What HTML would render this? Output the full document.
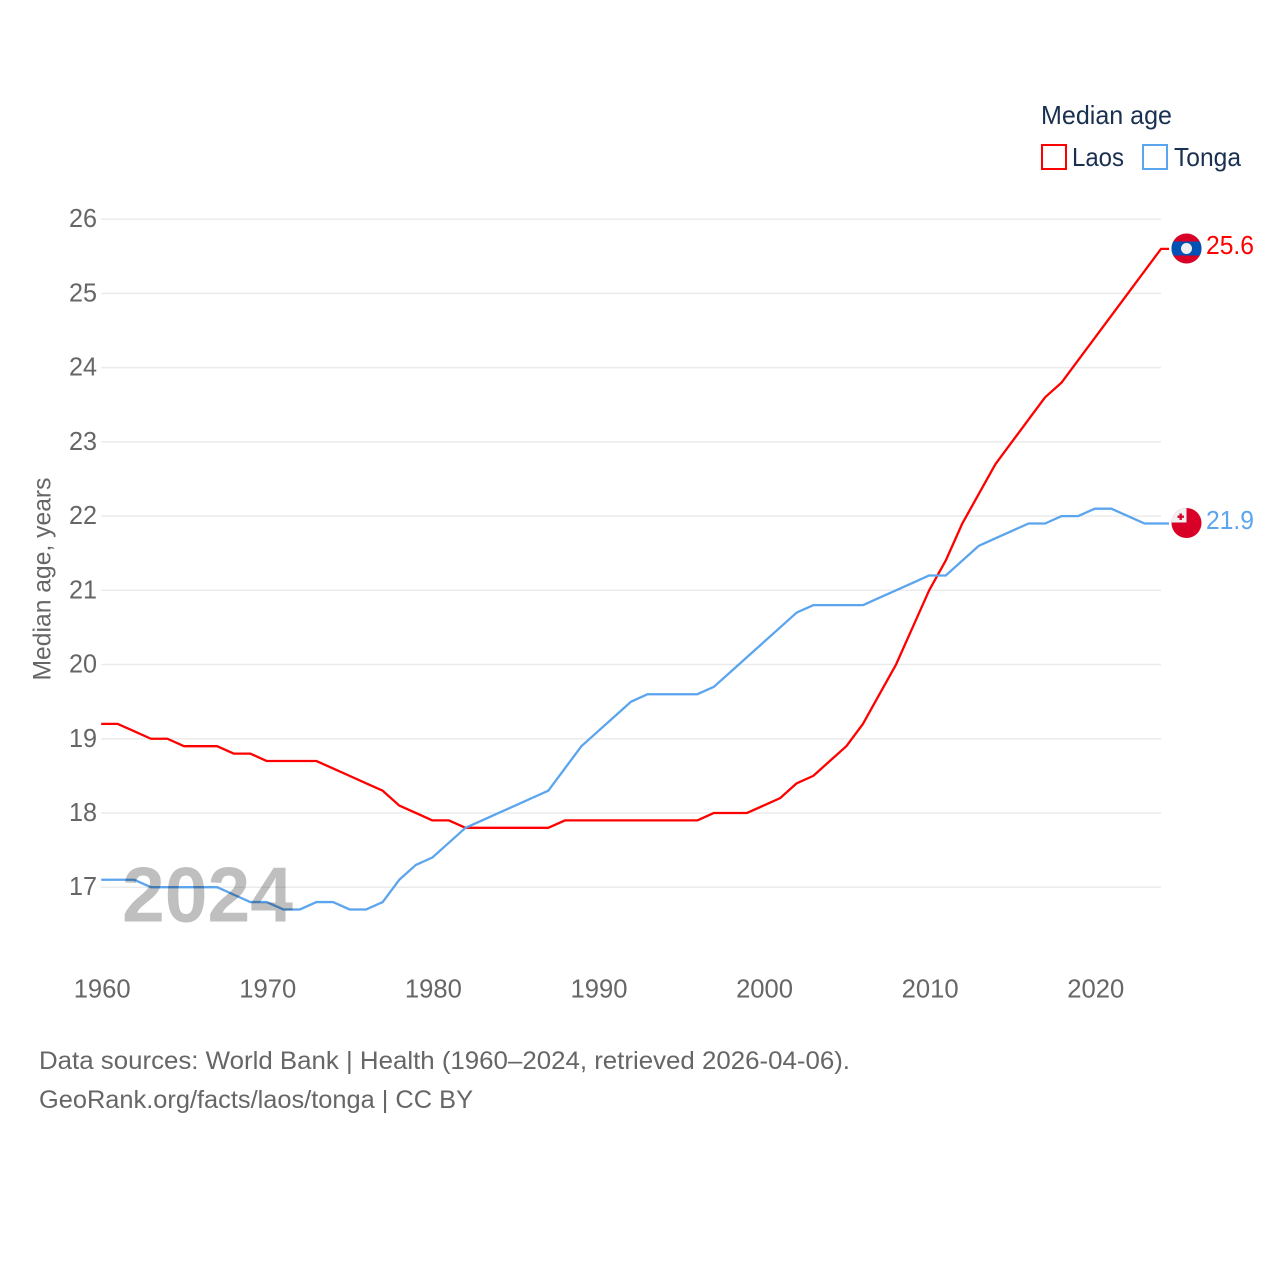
<!DOCTYPE html>
<html lang="en">
<head>
<meta charset="utf-8">
<title>Median age: Laos and Tonga</title>
<style>
html,body{margin:0;padding:0;background:#fff;width:1280px;height:1280px;overflow:hidden}
svg{display:block}
text{font-family:"Liberation Sans",sans-serif}
</style>
</head>
<body>
<svg id="chart" width="1280" height="1280" viewBox="0 0 1280 1280" xmlns="http://www.w3.org/2000/svg">
  <rect width="1280" height="1280" fill="#fff"/>
  <g id="grid"></g>
  <g id="yticks"></g>
  <g id="xticks"></g>
  <text transform="translate(50.5,579) rotate(-90)" text-anchor="middle" font-size="25" fill="#666" textLength="203" lengthAdjust="spacingAndGlyphs">Median age, years</text>
  <g id="series"></g>
  <text id="year" x="122" y="921.5" font-size="78" font-weight="700" fill="#bfbfbf" textLength="171" lengthAdjust="spacingAndGlyphs" style="mix-blend-mode:multiply">2024</text>

  <g>
    <clipPath id="clip-laos"><circle cx="1186.5" cy="248.5" r="15"/></clipPath>
    <g clip-path="url(#clip-laos)">
      <rect x="1171" y="233" width="31" height="31" fill="#d80027"/>
      <rect x="1171" y="241.5" width="31" height="14" fill="#0052b4"/>
      <circle cx="1186.5" cy="248.5" r="5.5" fill="#f0f0f0"/>
    </g>
  </g>
  <g>
    <clipPath id="clip-tonga"><circle cx="1186.5" cy="523" r="15"/></clipPath>
    <g clip-path="url(#clip-tonga)">
      <rect x="1171" y="507.5" width="31" height="31" fill="#d80027"/>
      <rect x="1171" y="507.5" width="15.5" height="15" fill="#f0f0f0"/>
      <rect x="1177.5" y="515.5" width="6.4" height="2.4" fill="#d80027"/>
      <rect x="1179.5" y="513.5" width="2.4" height="6.4" fill="#d80027"/>
    </g>
  </g>
  <text id="label-laos" x="1206" y="254" font-size="26" fill="#ff0000" textLength="48" lengthAdjust="spacingAndGlyphs"></text>
  <text id="label-tonga" x="1206" y="529" font-size="26" fill="#5ba4ee" textLength="48" lengthAdjust="spacingAndGlyphs"></text>

  <g>
    <text x="1041" y="124" font-size="26" fill="#1a3050" textLength="131" lengthAdjust="spacingAndGlyphs">Median age</text>
    <g>
      <rect x="1042" y="145" width="24" height="24" fill="none" stroke="#ff0000" stroke-width="2"/>
      <text x="1072" y="166" font-size="26" fill="#1a3050" textLength="52" lengthAdjust="spacingAndGlyphs">Laos</text>
    </g>
    <g>
      <rect x="1143" y="145" width="24" height="24" fill="none" stroke="#5ba4ee" stroke-width="2"/>
      <text x="1174" y="166" font-size="26" fill="#1a3050" textLength="67" lengthAdjust="spacingAndGlyphs">Tonga</text>
    </g>
  </g>

  <text x="39" y="1069" font-size="25" fill="#666" textLength="811" lengthAdjust="spacingAndGlyphs">Data sources: World Bank | Health (1960–2024, retrieved 2026-04-06).</text>
  <text x="39" y="1108" font-size="25" fill="#666" textLength="434" lengthAdjust="spacingAndGlyphs">GeoRank.org/facts/laos/tonga | CC BY</text>
</svg>
<script>
const startYear = 1960;
const laosValues = [19.2,19.2,19.1,19.0,19.0,18.9,18.9,18.9,18.8,18.8,18.7,18.7,18.7,18.7,18.6,18.5,18.4,18.3,18.1,18.0,17.9,17.9,17.8,17.8,17.8,17.8,17.8,17.8,17.9,17.9,17.9,17.9,17.9,17.9,17.9,17.9,17.9,18.0,18.0,18.0,18.1,18.2,18.4,18.5,18.7,18.9,19.2,19.6,20.0,20.5,21.0,21.4,21.9,22.3,22.7,23.0,23.3,23.6,23.8,24.1,24.4,24.7,25.0,25.3,25.6];
const tongaValues = [17.1,17.1,17.1,17.0,17.0,17.0,17.0,17.0,16.9,16.8,16.8,16.7,16.7,16.8,16.8,16.7,16.7,16.8,17.1,17.3,17.4,17.6,17.8,17.9,18.0,18.1,18.2,18.3,18.6,18.9,19.1,19.3,19.5,19.6,19.6,19.6,19.6,19.7,19.9,20.1,20.3,20.5,20.7,20.8,20.8,20.8,20.8,20.9,21.0,21.1,21.2,21.2,21.4,21.6,21.7,21.8,21.9,21.9,22.0,22.0,22.1,22.1,22.0,21.9,21.9];
const yTickValues = [17,18,19,20,21,22,23,24,25,26];
const xTickValues = [1960,1970,1980,1990,2000,2010,2020];

const NS = 'http://www.w3.org/2000/svg';
const xScale = year => 101.2 + (year - 1960) * (1161 - 101.2) / 64;
const yScale = v => 887.2 - (v - 17) * (887.2 - 219.2) / 9;

function make(tag, parent, attrs, text) {
  const el = document.createElementNS(NS, tag);
  for (const k in attrs) el.setAttribute(k, attrs[k]);
  if (text !== undefined) el.textContent = text;
  parent.appendChild(el);
  return el;
}

const grid = document.getElementById('grid');
const yticks = document.getElementById('yticks');
const xticks = document.getElementById('xticks');
const seriesGroup = document.getElementById('series');

yTickValues.forEach(v => {
  const line = make('line', grid, {x1: 101, x2: 1161, y1: yScale(v), y2: yScale(v), stroke: '#ebebeb', 'stroke-width': 1.5});
  
  
  const label = make('text', yticks, {x: 97, y: yScale(v) + 8, 'text-anchor': 'end', 'font-size': 26, fill: '#666', textLength: 28, lengthAdjust: 'spacingAndGlyphs'}, String(v));
  
  
});

xTickValues.forEach(y => {
  const label = make('text', xticks, {x: xScale(y) + 1, y: 997.5, 'text-anchor': 'middle', 'font-size': 26, fill: '#666', textLength: 57, lengthAdjust: 'spacingAndGlyphs'}, String(y));
  
  
});

function drawSeries(values, color) {
  const pts = values.map((v, i) => xScale(startYear + i).toFixed(2) + ',' + yScale(v).toFixed(2));
  const lastY = yScale(values[values.length - 1]).toFixed(2);
  pts.push('1169,' + lastY);
  return make('polyline', seriesGroup, {points: pts.join(' '), fill: 'none', stroke: color, 'stroke-width': 2.3, 'stroke-linejoin': 'round'});
}

const laosLine = drawSeries(laosValues, '#ff0000');


const tongaLine = drawSeries(tongaValues, '#5ba4ee');



document.getElementById('label-laos').textContent = laosValues[laosValues.length - 1].toFixed(1);
document.getElementById('label-tonga').textContent = tongaValues[tongaValues.length - 1].toFixed(1);
</script>
</body>
</html>
